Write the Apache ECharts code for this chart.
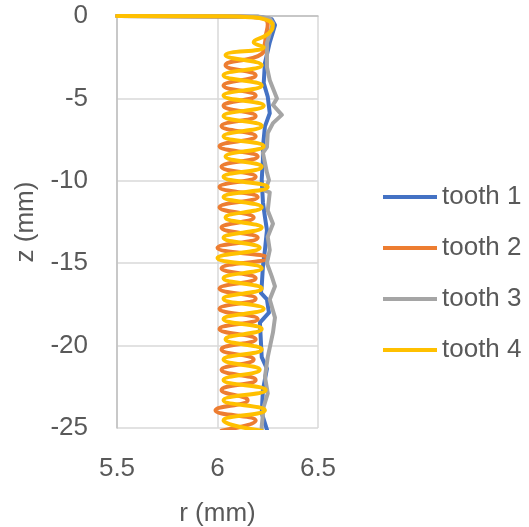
<!DOCTYPE html>
<html>
<head>
<meta charset="utf-8">
<script src="https://cdn.jsdelivr.net/npm/echarts@6/dist/echarts.min.js"></script>
<style>
html,body{margin:0;padding:0;background:#fff;}
#chart{width:529px;height:527px;}
</style>
</head>
<body>
<div id="chart"></div>
<script>
var seriesNames = ['tooth 1', 'tooth 2', 'tooth 3', 'tooth 4'];
var xTicks = { min: 5.5, max: 6.5, step: 0.5 };
var yTicks = { min: -25, max: 0, step: 5 };

// [r (mm), z (mm)]
var tooth1 = [[5.5,0],[6.2,-0.04],[6.27,-0.2],[6.286,-0.55],[6.26,-1.6],[6.236,-2.85],[6.23,-4.07],[6.25,-4.9],[6.26,-5.9],[6.236,-6.7],[6.226,-7.95],[6.226,-8.7],[6.22,-9.95],[6.226,-11.3],[6.236,-12.2],[6.246,-13],[6.236,-14.2],[6.226,-15.2],[6.22,-16.4],[6.216,-16.8],[6.246,-17.2],[6.256,-18.0],[6.211,-18.6],[6.22,-20.7],[6.246,-21.4],[6.226,-22.7],[6.22,-24.1],[6.246,-25.1]];

var tooth2 = [[5.5,0],[6.1,-0.03],[6.22,-0.12],[6.25,-0.5],[6.24,-1.2],[6.236,-1.64],[6.22,-2.3],
[6.04,-2.99],[6.19,-3.60],[6.03,-4.22],[6.19,-4.83],[6.03,-5.45],[6.19,-6.07],[6.02,-6.68],[6.19,-7.30],
[6.01,-7.91],[6.20,-8.53],[6.02,-9.15],[6.19,-9.76],[6.01,-10.38],[6.20,-10.99],[6.01,-11.61],[6.18,-12.23],
[6.02,-12.84],[6.20,-13.46],[6.00,-14.07],[6.25,-14.69],[6.02,-15.31],[6.19,-15.92],[6.01,-16.54],[6.19,-17.15],
[6.01,-17.77],[6.20,-18.39],[6.01,-19.00],[6.19,-19.62],[6.02,-20.23],[6.18,-20.85],[6.02,-21.47],[6.19,-22.08],
[6.02,-22.70],[6.15,-23.31],[5.99,-23.93],[6.19,-24.54],[6.02,-25.16]];

var tooth3 = [[5.5,0],[6.2,-0.03],[6.26,-0.15],[6.276,-0.43],[6.246,-1.64],[6.246,-3.1],[6.26,-3.9],[6.296,-5.0],[6.276,-5.4],[6.32,-6.0],[6.276,-6.5],[6.25,-7.1],[6.246,-7.95],[6.226,-8.3],[6.246,-9.5],[6.256,-9.95],[6.236,-10.6],[6.26,-10.7],[6.25,-11.8],[6.276,-12.6],[6.25,-13.4],[6.26,-14.2],[6.246,-15.0],[6.27,-15.8],[6.286,-16.4],[6.26,-17.2],[6.286,-18.3],[6.276,-19.2],[6.25,-20.7],[6.236,-21.9],[6.25,-22.9],[6.23,-23.7],[6.22,-24.9],[6.22,-25.2]];

var tooth4 = [[5.5,0],[6.0,-0.02],[6.16,-0.07],[6.24,-0.22],[6.275,-0.6],[6.25,-1.1],[6.18,-1.6],[6.23,-1.9],
[6.04,-2.37],[6.22,-2.99],[6.03,-3.60],[6.22,-4.22],[6.03,-4.83],[6.23,-5.45],[6.03,-6.07],[6.22,-6.68],
[6.03,-7.30],[6.23,-7.91],[6.04,-8.53],[6.22,-9.15],[6.03,-9.76],[6.25,-10.38],[6.03,-10.99],[6.22,-11.61],
[6.04,-12.23],[6.22,-12.84],[6.03,-13.46],[6.21,-14.07],[6.00,-14.69],[6.22,-15.31],[6.03,-15.92],[6.22,-16.54],
[6.03,-17.15],[6.23,-17.77],[6.03,-18.39],[6.22,-19.00],[6.04,-19.62],[6.22,-20.23],[6.03,-20.85],[6.21,-21.47],
[6.03,-22.08],[6.24,-22.70],[6.03,-23.31],[6.236,-23.93],[6.03,-24.54],[6.22,-25.16]];

var colors = ['#4472C4', '#ED7D31', '#A5A5A5', '#FFC000'];
var allData = [tooth1, tooth2, tooth3, tooth4];
var smoothFlags = [false, true, false, true];

var fontFam = '"Liberation Sans", Arial, sans-serif';
var textColor = '#595959';

var chart = echarts.init(document.getElementById('chart'));
chart.setOption({
  animation: false,
  backgroundColor: '#fff',
  grid: { left: 117, right: 211, top: 16, bottom: 99, containLabel: false, outerBoundsMode: 'none' },
  legend: {
    orient: 'vertical',
    left: 378,
    top: 177,
    icon: 'rect',
    itemWidth: 54,
    itemHeight: 4,
    itemGap: 21,
    data: seriesNames,
    textStyle: { fontFamily: fontFam, fontSize: 26, color: textColor, lineHeight: 30 }
  },
  xAxis: {
    type: 'value',
    min: xTicks.min, max: xTicks.max, interval: xTicks.step,
    name: 'r (mm)', nameLocation: 'middle', nameGap: 73,
    nameTextStyle: { fontFamily: fontFam, fontSize: 26, color: textColor },
    axisLine: { show: true, lineStyle: { color: '#BFBFBF', width: 1.5 } },
    axisTick: { show: false },
    axisLabel: { margin: 28, fontFamily: fontFam, fontSize: 26, color: textColor },
    splitLine: { show: true, lineStyle: { color: '#D9D9D9', width: 1.5 } }
  },
  yAxis: {
    type: 'value',
    min: yTicks.min, max: yTicks.max, interval: yTicks.step,
    name: 'z (mm)', nameLocation: 'middle', nameGap: 78, nameRotate: 90,
    nameTextStyle: { fontFamily: fontFam, fontSize: 26, color: textColor },
    axisLine: { show: true, onZero: false, lineStyle: { color: '#BFBFBF', width: 1.5 } },
    axisTick: { show: false },
    axisLabel: { margin: 29, fontFamily: fontFam, fontSize: 26, color: textColor },
    splitLine: { show: true, lineStyle: { color: '#D9D9D9', width: 1.5 } }
  },
  series: seriesNames.map(function (n, i) {
    return {
      name: n,
      type: 'line',
      data: allData[i],
      showSymbol: false,
      symbol: 'none',
      smooth: smoothFlags[i] ? 0.5 : false,
      clip: true,
      color: colors[i],
      lineStyle: { color: colors[i], width: 4, cap: 'round', join: 'round' }
    };
  })
});
</script>
</body>
</html>
